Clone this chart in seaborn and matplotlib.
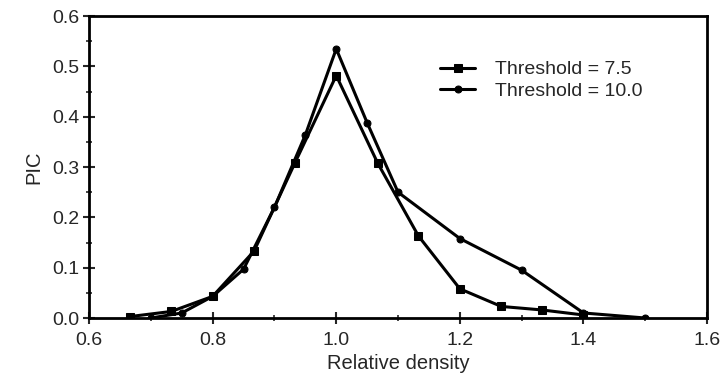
import matplotlib
matplotlib.use("Agg")
import matplotlib.pyplot as plt
import seaborn as sns
import pandas as pd
from matplotlib.ticker import MultipleLocator

x_75 = [0.667, 0.733, 0.8, 0.867, 0.933, 1.0, 1.067, 1.133, 1.2, 1.267, 1.333, 1.4]
y_75 = [0.003, 0.013, 0.043, 0.133, 0.308, 0.482, 0.308, 0.163, 0.058, 0.023, 0.016, 0.006]
x_10 = [0.7, 0.75, 0.8, 0.85, 0.9, 0.95, 1.0, 1.05, 1.1, 1.2, 1.3, 1.4, 1.5]
y_10 = [0.0, 0.01, 0.043, 0.097, 0.22, 0.364, 0.535, 0.388, 0.25, 0.158, 0.095, 0.01, 0.0]
labels = ["Threshold = 7.5", "Threshold = 10.0"]

sns.set_style("ticks")
plt.rcParams['font.family'] = ['Liberation Sans', 'DejaVu Sans']

df75 = pd.DataFrame({"x": x_75, "y": y_75})
df10 = pd.DataFrame({"x": x_10, "y": y_10})

fig = plt.figure(figsize=(7.25, 3.85), dpi=100)
ax = fig.add_axes([0.1228, 0.174, 0.8525, 0.784])

sns.lineplot(data=df75, x="x", y="y", ax=ax, color="black", lw=2.2,
             marker="s", markersize=6, markeredgecolor="black", label=labels[0])
sns.lineplot(data=df10, x="x", y="y", ax=ax, color="black", lw=2.2,
             marker="o", markersize=5, markeredgecolor="black", label=labels[1])

ax.set_xlim(0.6, 1.6)
ax.set_ylim(0.0, 0.6)
ax.xaxis.set_major_locator(MultipleLocator(0.2))
ax.xaxis.set_minor_locator(MultipleLocator(0.1))
ax.yaxis.set_major_locator(MultipleLocator(0.1))
ax.yaxis.set_minor_locator(MultipleLocator(0.05))
ax.xaxis.set_major_formatter(plt.FormatStrFormatter('%.1f'))
ax.yaxis.set_major_formatter(plt.FormatStrFormatter('%.1f'))
ax.tick_params(which="major", direction="inout", length=8, width=1.5, labelsize=14, pad=3)
ax.tick_params(axis="x", which="major", pad=6)
ax.tick_params(which="minor", direction="inout", length=5, width=1.2)
for s in ax.spines.values():
    s.set_linewidth(2)
    s.set_color("black")
ax.set_xlabel("Relative density", fontsize=14.5, labelpad=4)
ax.set_ylabel("PIC", fontsize=14.5, labelpad=6)

leg = ax.legend(loc="upper left", bbox_to_anchor=(0.54, 0.91), frameon=False,
                fontsize=14, handlelength=1.8, handletextpad=1.0, labelspacing=0.2)

fig.savefig("out.png", dpi=100)
